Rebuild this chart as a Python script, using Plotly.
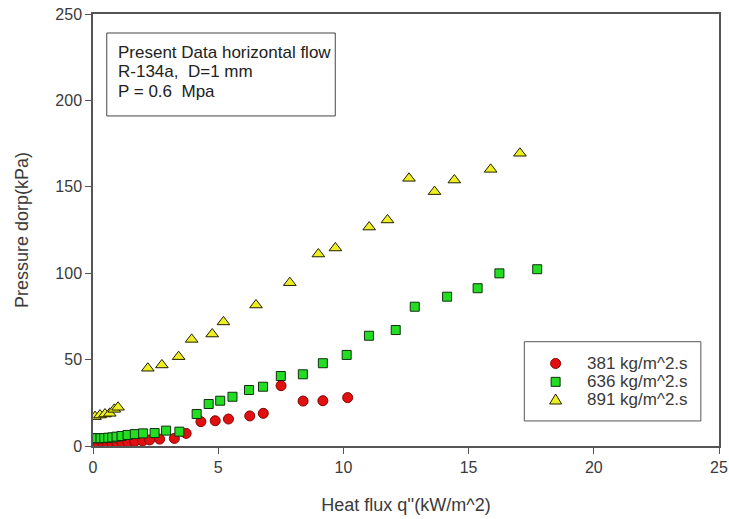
import plotly.graph_objects as go

# ---- data ----
x381 = [0.2, 0.4, 0.56, 0.75, 0.95, 1.15, 1.39, 1.67, 1.98, 2.26, 2.66, 3.25, 3.72,
        4.31, 4.88, 5.41, 6.26, 6.80, 7.51, 8.39, 9.18, 10.17]
y381 = [1.7, 1.7, 1.7, 1.7, 2.0, 2.0, 2.3, 2.6, 2.9, 3.5, 4.0, 4.4, 7.3,
        14.1, 14.6, 15.6, 17.4, 18.9, 34.9, 26.0, 26.2, 28.0]

x636 = [0.02, 0.15, 0.3, 0.45, 0.61, 0.77, 0.94, 1.14, 1.38, 1.67, 2.0, 2.46, 2.92, 3.45,
        4.14, 4.62, 5.08, 5.57, 6.23, 6.79, 7.5, 8.38, 9.18, 10.13, 11.02, 12.09,
        12.85, 14.14, 15.36, 16.23, 17.74]
y636 = [4.5, 4.5, 4.5, 4.6, 4.8, 5.0, 5.4, 5.8, 6.4, 6.9, 7.3, 7.5, 8.9, 8.3,
        18.5, 24.3, 26.2, 28.5, 32.4, 34.3, 40.5, 41.5, 47.9, 52.7, 63.8, 67.1,
        80.6, 86.4, 91.3, 99.9, 102.3]

x891 = [0.08, 0.28, 0.48, 0.67, 0.85, 1.0, 2.19, 2.75, 3.42, 3.94, 4.76, 5.21, 6.51,
        7.86, 9.0, 9.68, 11.03, 11.76, 12.62, 13.64, 14.43, 15.88, 17.05]
y891 = [17.0, 17.9, 18.5, 18.9, 21.2, 22.4, 45.0, 46.9, 51.7, 61.7, 64.8, 71.8, 81.6,
        94.5, 111.1, 114.6, 126.7, 130.8, 154.9, 147.2, 153.9, 160.1, 169.4]

names = ["381 kg/m^2.s", "636 kg/m^2.s", "891 kg/m^2.s"]
x_ticks = [0, 5, 10, 15, 20, 25]
y_ticks = [0, 50, 100, 150, 200, 250]
info_lines = ["Present Data horizontal flow", "R-134a,  D=1 mm", "P = 0.6  Mpa"]

FONT = "Liberation Sans, Arial, sans-serif"
TXT = "#3a3a3a"

styles = [
    dict(symbol="circle", size=10, color="#e01010", line=dict(color="#8a0000", width=1)),
    dict(symbol="square", size=9, color="#22dd22", line=dict(color="#103010", width=1)),
    dict(symbol="triangle-up", size=11, color="#eeee22", line=dict(color="#202000", width=1)),
]

fig = go.Figure()
for xs, ys, nm, st in zip([x381, x636, x891], [y381, y636, y891], names, styles):
    fig.add_trace(go.Scatter(x=xs, y=ys, mode="markers", name=nm, marker=st, showlegend=False))

axis_common = dict(showgrid=False, zeroline=False, showline=True, linecolor="#555555",
                   linewidth=1.5, mirror=True, ticks="outside", ticklen=6,
                   tickcolor="#555555", automargin=False, ticklabeloverflow="allow",
                   tickfont=dict(family=FONT, size=16, color=TXT))

fig.update_xaxes(range=[0, 25], tickvals=x_ticks,
                 title=dict(text="Heat flux q''(kW/m^2)", font=dict(family=FONT, size=18, color=TXT),
                            standoff=23),
                 **axis_common)
fig.update_yaxes(range=[0, 250], tickvals=y_ticks,
                 title=dict(text="Pressure dorp(kPa)", font=dict(family=FONT, size=18, color=TXT),
                            standoff=22),
                 **axis_common)

# info box
fig.add_shape(type="rect", xref="paper", yref="paper", x0=0.022, x1=0.387, y0=0.764, y1=0.956,
              line=dict(color="#444444", width=1), fillcolor="white", layer="below")
for line, yp in zip(info_lines, [0.911, 0.866, 0.821]):
    fig.add_annotation(xref="paper", yref="paper", x=0.036, y=yp, xanchor="left", yanchor="middle",
                       text=line, showarrow=False, align="left",
                       font=dict(family=FONT, size=17, color="#222222"))

# legend box (drawn manually for exact spacing)
fig.add_shape(type="rect", xref="paper", yref="paper", x0=0.689, x1=0.971, y0=0.058, y1=0.2414,
              line=dict(color="#555555", width=1), fillcolor="white", layer="below")
leg_y = [0.191, 0.1485, 0.1065]
leg_x = 0.739
fig.add_shape(type="circle", xref="paper", yref="paper", xsizemode="pixel", ysizemode="pixel",
              xanchor=leg_x, yanchor=leg_y[0], x0=-5, x1=5, y0=-5, y1=5,
              fillcolor=styles[0]["color"], line=dict(color=styles[0]["line"]["color"], width=1))
fig.add_shape(type="rect", xref="paper", yref="paper", xsizemode="pixel", ysizemode="pixel",
              xanchor=leg_x, yanchor=leg_y[1], x0=-4.5, x1=4.5, y0=-4.5, y1=4.5,
              fillcolor=styles[1]["color"], line=dict(color=styles[1]["line"]["color"], width=1))
fig.add_shape(type="path", xref="paper", yref="paper", xsizemode="pixel", ysizemode="pixel",
              xanchor=leg_x, yanchor=leg_y[2], path="M 0 6 L 6 -4 L -6 -4 Z",
              fillcolor=styles[2]["color"], line=dict(color=styles[2]["line"]["color"], width=1))
for nm, yp in zip(names, leg_y):
    fig.add_annotation(xref="paper", yref="paper", x=0.786, y=yp, xanchor="left", yanchor="middle",
                       text=nm, showarrow=False,
                       font=dict(family=FONT, size=17, color=TXT))

fig.update_layout(
    width=729, height=519,
    margin=dict(l=93, r=10, t=14, b=73),
    plot_bgcolor="white", paper_bgcolor="white",
    showlegend=False,
)

fig.write_html("out.html", config={"displayModeBar": False},
               post_script="document.body.style.margin='0';")
